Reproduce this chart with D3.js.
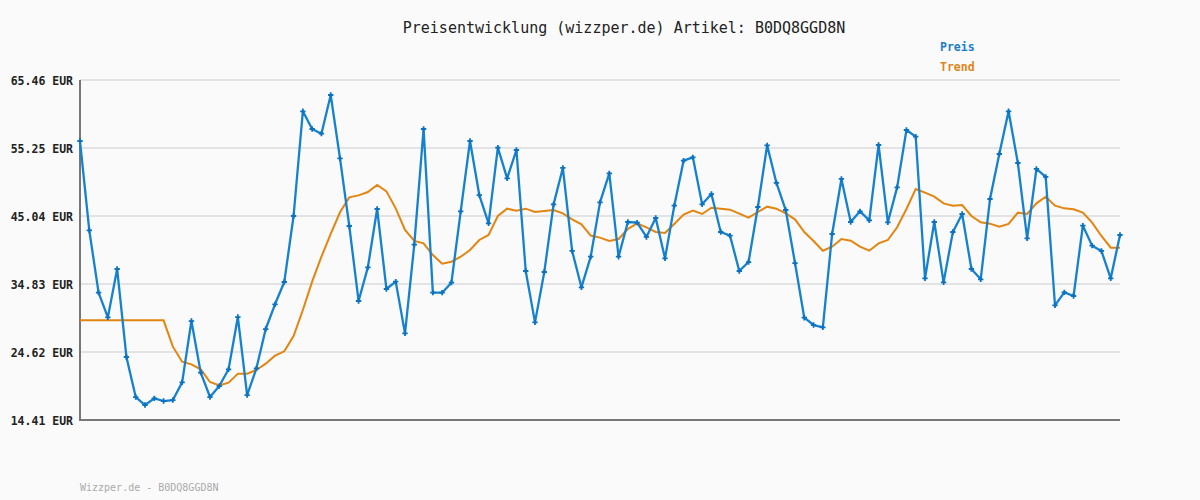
<!DOCTYPE html>
<html>
<head>
<meta charset="utf-8">
<script src="https://cdn.jsdelivr.net/npm/d3@7"></script>
<style>
  body { margin: 0; background: #fafafa; }
  svg { display: block; }
</style>
</head>
<body>
<div id="container"></div>
<script>
var width = 1200,
    height = 500,
    margin = { left: 80, top: 80, right: 80, bottom: 80 },
    gWidth = width - margin.left - margin.right,
    gHeight = height - margin.top - margin.bottom;

// price per day
var preis = [56.30, 42.89, 33.53, 29.82, 37.08, 23.87, 17.86, 16.66, 17.66, 17.26,
    17.41, 20.06, 29.27, 21.52, 17.86, 19.51, 22.02, 29.87, 18.16, 22.17,
    28.07, 31.78, 35.13, 45.04, 60.76, 58.10, 57.40, 63.21, 53.70, 43.54,
    32.28, 37.33, 46.09, 34.08, 35.18, 27.42, 40.74, 58.10, 33.53, 33.53,
    35.03, 45.74, 56.30, 48.19, 43.94, 55.30, 50.70, 54.95, 36.78, 29.07,
    36.63, 46.79, 52.25, 39.79, 34.33, 38.93, 47.09, 51.45, 38.93, 44.14,
    44.04, 41.89, 44.74, 38.68, 46.59, 53.35, 53.85, 46.79, 48.34, 42.64,
    42.09, 36.78, 38.13, 46.39, 55.65, 50.00, 45.94, 37.98, 29.77, 28.67,
    28.32, 42.34, 50.60, 44.14, 45.74, 44.39, 55.70, 44.09, 49.34, 57.95,
    56.95, 35.68, 44.14, 35.08, 42.64, 45.34, 37.08, 35.53, 47.59, 54.35,
    60.76, 53.00, 41.69, 52.10, 50.90, 31.63, 33.58, 33.03, 43.59, 40.59,
    39.79, 35.68, 42.19];

// trend (moving average)
var trend = [29.37, 29.37, 29.37, 29.37, 29.37, 29.37, 29.37, 29.37, 29.37, 29.37,
    25.42, 23.17, 22.77, 22.02, 20.11, 19.61, 20.01, 21.37, 21.37, 21.92,
    22.87, 24.07, 24.72, 27.02, 30.93, 35.18, 38.93, 42.34, 45.60, 47.84,
    48.14, 48.64, 49.69, 48.74, 46.19, 42.94, 41.29, 40.94, 39.18, 37.88,
    38.18, 38.93, 39.93, 41.44, 42.19, 45.04, 46.14, 45.84, 46.14, 45.64,
    45.79, 45.94, 45.44, 44.54, 43.80, 42.10, 41.79, 41.29, 41.59, 43.09,
    43.94, 43.34, 42.64, 42.49, 43.84, 45.24, 45.84, 45.34, 46.29, 46.14,
    45.99, 45.39, 44.79, 45.64, 46.44, 46.14, 45.44, 44.54, 42.64, 41.29,
    39.83, 40.43, 41.59, 41.34, 40.43, 39.83, 40.93, 41.44, 43.34, 46.09,
    49.09, 48.54, 47.94, 46.94, 46.59, 46.69, 45.04, 44.09, 43.89, 43.44,
    43.84, 45.54, 45.34, 46.94, 47.94, 46.59, 46.19, 46.04, 45.54, 44.04,
    42.04, 40.28, 40.28];

var yTicks = [14.41, 24.62, 34.83, 45.04, 55.25, 65.46];
var title = 'Preisentwicklung (wizzper.de) Artikel: B0DQ8GGD8N';
var footer = 'Wizzper.de - B0DQ8GGD8N';

var blue = '#1581cf', orange = '#e3850f';
var mono = '"DejaVu Sans Mono", monospace';

var svg = d3.select('#container')
    .append('svg')
    .attr('width', width)
    .attr('height', height)
    .style('background', '#fafafa');

var g = svg.append('g')
    .attr('transform', 'translate(' + margin.left + ',' + margin.top + ')');

var scaleX = d3.scaleLinear()
    .domain([0, preis.length - 1])
    .range([0, gWidth]);
var scaleY = d3.scaleLinear()
    .domain([yTicks[0], yTicks[yTicks.length - 1]])
    .range([gHeight, 0]);

// grid lines
g.append('g')
    .selectAll('line')
    .data(yTicks.slice(1))
    .enter()
    .append('line')
    .attr('x1', 0)
    .attr('x2', gWidth)
    .attr('y1', function(d) { return scaleY(d); })
    .attr('y2', function(d) { return scaleY(d); })
    .attr('stroke', '#e3e3e3')
    .attr('stroke-width', 2);

// y axis labels
var yAxis = d3.axisLeft(scaleY)
    .tickValues(yTicks)
    .tickSize(0)
    .tickPadding(7)
    .tickFormat(function(d) { return d.toFixed(2) + ' EUR'; });
var ya = g.append('g').call(yAxis);
ya.select('.domain').remove();
ya.selectAll('text')
    .attr('font-family', mono)
    .attr('font-size', 11.5)
    .attr('font-weight', 'bold')
    .attr('fill', '#222')
    .attr('dy', '0.35em');

// axis lines
g.append('line')
    .attr('x1', 0).attr('x2', 0)
    .attr('y1', 0).attr('y2', gHeight + 1)
    .attr('stroke', '#777').attr('stroke-width', 2);
g.append('line')
    .attr('x1', 0).attr('x2', gWidth)
    .attr('y1', gHeight).attr('y2', gHeight)
    .attr('stroke', '#777').attr('stroke-width', 2);

var lineGen = d3.line()
    .x(function(d, i) { return scaleX(i); })
    .y(function(d) { return scaleY(d); });

g.append('path')
    .attr('d', lineGen(trend))
    .attr('fill', 'none')
    .attr('stroke', orange)
    .attr('stroke-width', 2);

g.append('path')
    .attr('d', lineGen(preis))
    .attr('fill', 'none')
    .attr('stroke', blue)
    .attr('stroke-width', 2.3)
    .attr('stroke-linejoin', 'round');

// markers
var cross = d3.symbol().type(d3.symbolCross).size(16);
g.append('g')
    .selectAll('path')
    .data(preis)
    .enter()
    .append('path')
    .attr('d', cross)
    .attr('transform', function(d, i) {
        return 'translate(' + scaleX(i) + ',' + scaleY(d) + ')';
    })
    .attr('fill', '#0a72c0');

// title
svg.append('text')
    .attr('x', 624)
    .attr('y', 33)
    .attr('text-anchor', 'middle')
    .attr('font-family', mono)
    .attr('font-size', 15)
    .attr('fill', '#222')
    .text(title);

// legend
var legend = [{ name: 'Preis', color: '#1a7ec6' }, { name: 'Trend', color: '#e0841a' }];
svg.append('g')
    .selectAll('text')
    .data(legend)
    .enter()
    .append('text')
    .attr('x', 940)
    .attr('y', function(d, i) { return 51 + i * 20; })
    .attr('font-family', mono)
    .attr('font-size', 11.5)
    .attr('font-weight', 'bold')
    .attr('fill', function(d) { return d.color; })
    .text(function(d) { return d.name; });

// footer
svg.append('text')
    .attr('x', 80)
    .attr('y', 491)
    .attr('font-family', mono)
    .attr('font-size', 10)
    .attr('fill', '#aaa')
    .text(footer);
</script>
</body>
</html>
